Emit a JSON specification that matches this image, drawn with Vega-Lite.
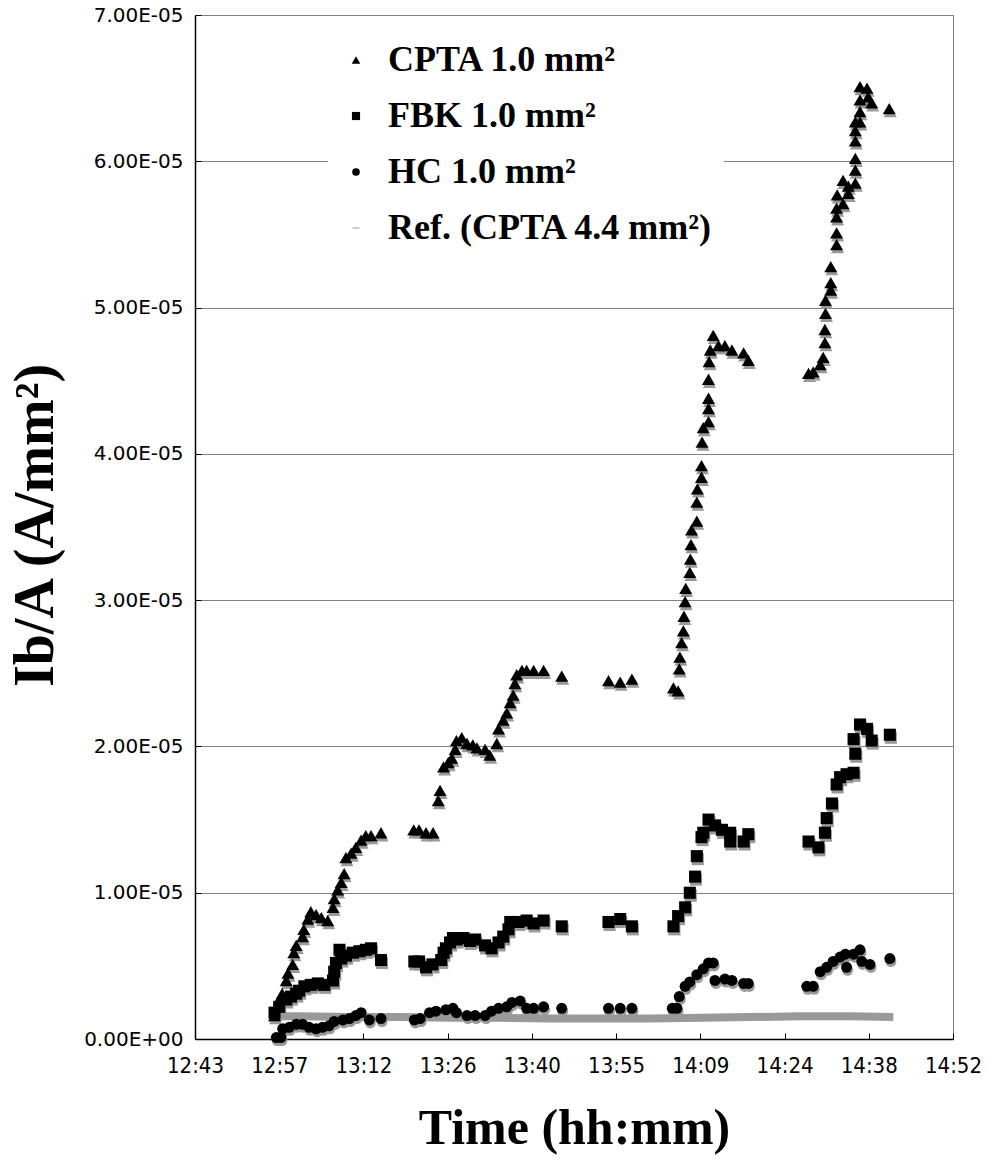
{
  "$schema": "https://vega.github.io/schema/vega-lite/v6.json",
  "width": 758,
  "height": 1024,
  "autosize": "none",
  "padding": {"left": 195, "top": 15, "right": 34, "bottom": 130},
  "background": "white",
  "config": {"view": {"stroke": "#808080", "strokeWidth": 1}},
  "data": {"values": [
    {"s":"CPTA 1.0 mm²","t":776.8,"v":0.16e-5},{"s":"CPTA 1.0 mm²","t":777.6,"v":0.27e-5},{"s":"CPTA 1.0 mm²","t":778.1,"v":0.31e-5},{"s":"CPTA 1.0 mm²","t":778.8,"v":0.40e-5},{"s":"CPTA 1.0 mm²","t":779.1,"v":0.45e-5},{"s":"CPTA 1.0 mm²","t":779.9,"v":0.51e-5},{"s":"CPTA 1.0 mm²","t":780.1,"v":0.59e-5},{"s":"CPTA 1.0 mm²","t":780.5,"v":0.64e-5},{"s":"CPTA 1.0 mm²","t":781.6,"v":0.70e-5},{"s":"CPTA 1.0 mm²","t":781.8,"v":0.75e-5},{"s":"CPTA 1.0 mm²","t":782.5,"v":0.82e-5},{"s":"CPTA 1.0 mm²","t":783.0,"v":0.87e-5},{"s":"CPTA 1.0 mm²","t":783.9,"v":0.85e-5},{"s":"CPTA 1.0 mm²","t":784.8,"v":0.83e-5},{"s":"CPTA 1.0 mm²","t":785.9,"v":0.81e-5},{"s":"CPTA 1.0 mm²","t":786.8,"v":0.90e-5},{"s":"CPTA 1.0 mm²","t":787.0,"v":0.96e-5},{"s":"CPTA 1.0 mm²","t":787.6,"v":1.02e-5},{"s":"CPTA 1.0 mm²","t":788.2,"v":1.07e-5},{"s":"CPTA 1.0 mm²","t":788.7,"v":1.13e-5},{"s":"CPTA 1.0 mm²","t":789.0,"v":1.24e-5},{"s":"CPTA 1.0 mm²","t":789.9,"v":1.27e-5},{"s":"CPTA 1.0 mm²","t":790.7,"v":1.31e-5},{"s":"CPTA 1.0 mm²","t":791.6,"v":1.36e-5},{"s":"CPTA 1.0 mm²","t":792.4,"v":1.39e-5},{"s":"CPTA 1.0 mm²","t":793.3,"v":1.39e-5},{"s":"CPTA 1.0 mm²","t":795.0,"v":1.41e-5},{"s":"CPTA 1.0 mm²","t":800.6,"v":1.43e-5},{"s":"CPTA 1.0 mm²","t":801.5,"v":1.43e-5},{"s":"CPTA 1.0 mm²","t":802.7,"v":1.41e-5},{"s":"CPTA 1.0 mm²","t":803.9,"v":1.41e-5},{"s":"CPTA 1.0 mm²","t":804.8,"v":1.63e-5},{"s":"CPTA 1.0 mm²","t":805.1,"v":1.70e-5},{"s":"CPTA 1.0 mm²","t":805.7,"v":1.86e-5},{"s":"CPTA 1.0 mm²","t":806.5,"v":1.89e-5},{"s":"CPTA 1.0 mm²","t":807.1,"v":1.92e-5},{"s":"CPTA 1.0 mm²","t":807.7,"v":1.98e-5},{"s":"CPTA 1.0 mm²","t":807.9,"v":2.04e-5},{"s":"CPTA 1.0 mm²","t":808.8,"v":2.06e-5},{"s":"CPTA 1.0 mm²","t":809.7,"v":2.02e-5},{"s":"CPTA 1.0 mm²","t":810.7,"v":2.01e-5},{"s":"CPTA 1.0 mm²","t":811.4,"v":1.99e-5},{"s":"CPTA 1.0 mm²","t":812.8,"v":1.98e-5},{"s":"CPTA 1.0 mm²","t":813.6,"v":1.94e-5},{"s":"CPTA 1.0 mm²","t":814.8,"v":2.02e-5},{"s":"CPTA 1.0 mm²","t":815.1,"v":2.12e-5},{"s":"CPTA 1.0 mm²","t":815.9,"v":2.18e-5},{"s":"CPTA 1.0 mm²","t":816.5,"v":2.23e-5},{"s":"CPTA 1.0 mm²","t":817.1,"v":2.30e-5},{"s":"CPTA 1.0 mm²","t":817.6,"v":2.35e-5},{"s":"CPTA 1.0 mm²","t":817.9,"v":2.43e-5},{"s":"CPTA 1.0 mm²","t":818.2,"v":2.49e-5},{"s":"CPTA 1.0 mm²","t":819.1,"v":2.52e-5},{"s":"CPTA 1.0 mm²","t":819.9,"v":2.52e-5},{"s":"CPTA 1.0 mm²","t":821.1,"v":2.52e-5},{"s":"CPTA 1.0 mm²","t":822.8,"v":2.52e-5},{"s":"CPTA 1.0 mm²","t":825.9,"v":2.48e-5},{"s":"CPTA 1.0 mm²","t":833.9,"v":2.45e-5},{"s":"CPTA 1.0 mm²","t":835.9,"v":2.44e-5},{"s":"CPTA 1.0 mm²","t":837.9,"v":2.46e-5},{"s":"CPTA 1.0 mm²","t":845.0,"v":2.40e-5},{"s":"CPTA 1.0 mm²","t":845.8,"v":2.38e-5},{"s":"CPTA 1.0 mm²","t":846.0,"v":2.53e-5},{"s":"CPTA 1.0 mm²","t":846.1,"v":2.61e-5},{"s":"CPTA 1.0 mm²","t":846.4,"v":2.71e-5},{"s":"CPTA 1.0 mm²","t":846.7,"v":2.79e-5},{"s":"CPTA 1.0 mm²","t":846.8,"v":2.89e-5},{"s":"CPTA 1.0 mm²","t":847.0,"v":2.99e-5},{"s":"CPTA 1.0 mm²","t":847.1,"v":3.08e-5},{"s":"CPTA 1.0 mm²","t":847.8,"v":3.19e-5},{"s":"CPTA 1.0 mm²","t":847.9,"v":3.28e-5},{"s":"CPTA 1.0 mm²","t":848.0,"v":3.38e-5},{"s":"CPTA 1.0 mm²","t":848.1,"v":3.48e-5},{"s":"CPTA 1.0 mm²","t":849.0,"v":3.54e-5},{"s":"CPTA 1.0 mm²","t":849.0,"v":3.67e-5},{"s":"CPTA 1.0 mm²","t":849.1,"v":3.76e-5},{"s":"CPTA 1.0 mm²","t":849.8,"v":3.84e-5},{"s":"CPTA 1.0 mm²","t":849.8,"v":3.92e-5},{"s":"CPTA 1.0 mm²","t":849.9,"v":4.08e-5},{"s":"CPTA 1.0 mm²","t":850.1,"v":4.18e-5},{"s":"CPTA 1.0 mm²","t":851.0,"v":4.22e-5},{"s":"CPTA 1.0 mm²","t":851.0,"v":4.31e-5},{"s":"CPTA 1.0 mm²","t":851.0,"v":4.38e-5},{"s":"CPTA 1.0 mm²","t":851.0,"v":4.51e-5},{"s":"CPTA 1.0 mm²","t":851.1,"v":4.63e-5},{"s":"CPTA 1.0 mm²","t":851.3,"v":4.71e-5},{"s":"CPTA 1.0 mm²","t":851.8,"v":4.81e-5},{"s":"CPTA 1.0 mm²","t":852.7,"v":4.74e-5},{"s":"CPTA 1.0 mm²","t":853.8,"v":4.74e-5},{"s":"CPTA 1.0 mm²","t":855.0,"v":4.71e-5},{"s":"CPTA 1.0 mm²","t":857.0,"v":4.69e-5},{"s":"CPTA 1.0 mm²","t":857.8,"v":4.64e-5},{"s":"CPTA 1.0 mm²","t":868.1,"v":4.55e-5},{"s":"CPTA 1.0 mm²","t":868.9,"v":4.56e-5},{"s":"CPTA 1.0 mm²","t":870.1,"v":4.61e-5},{"s":"CPTA 1.0 mm²","t":870.6,"v":4.66e-5},{"s":"CPTA 1.0 mm²","t":870.9,"v":4.76e-5},{"s":"CPTA 1.0 mm²","t":870.9,"v":4.85e-5},{"s":"CPTA 1.0 mm²","t":871.0,"v":4.96e-5},{"s":"CPTA 1.0 mm²","t":871.0,"v":5.05e-5},{"s":"CPTA 1.0 mm²","t":871.9,"v":5.12e-5},{"s":"CPTA 1.0 mm²","t":871.9,"v":5.17e-5},{"s":"CPTA 1.0 mm²","t":871.9,"v":5.28e-5},{"s":"CPTA 1.0 mm²","t":872.9,"v":5.43e-5},{"s":"CPTA 1.0 mm²","t":872.9,"v":5.51e-5},{"s":"CPTA 1.0 mm²","t":872.9,"v":5.62e-5},{"s":"CPTA 1.0 mm²","t":872.9,"v":5.68e-5},{"s":"CPTA 1.0 mm²","t":873.0,"v":5.77e-5},{"s":"CPTA 1.0 mm²","t":874.0,"v":5.71e-5},{"s":"CPTA 1.0 mm²","t":874.0,"v":5.87e-5},{"s":"CPTA 1.0 mm²","t":874.9,"v":5.83e-5},{"s":"CPTA 1.0 mm²","t":874.9,"v":5.78e-5},{"s":"CPTA 1.0 mm²","t":876.1,"v":5.85e-5},{"s":"CPTA 1.0 mm²","t":876.1,"v":5.94e-5},{"s":"CPTA 1.0 mm²","t":876.1,"v":6.02e-5},{"s":"CPTA 1.0 mm²","t":876.1,"v":6.14e-5},{"s":"CPTA 1.0 mm²","t":876.1,"v":6.21e-5},{"s":"CPTA 1.0 mm²","t":876.1,"v":6.27e-5},{"s":"CPTA 1.0 mm²","t":876.9,"v":6.27e-5},{"s":"CPTA 1.0 mm²","t":876.9,"v":6.34e-5},{"s":"CPTA 1.0 mm²","t":876.9,"v":6.42e-5},{"s":"CPTA 1.0 mm²","t":876.9,"v":6.51e-5},{"s":"CPTA 1.0 mm²","t":878.1,"v":6.50e-5},{"s":"CPTA 1.0 mm²","t":878.3,"v":6.44e-5},{"s":"CPTA 1.0 mm²","t":878.9,"v":6.40e-5},{"s":"CPTA 1.0 mm²","t":881.9,"v":6.36e-5},
    {"s":"FBK 1.0 mm²","t":776.8,"v":0.18e-5},{"s":"FBK 1.0 mm²","t":777.6,"v":0.22e-5},{"s":"FBK 1.0 mm²","t":778.8,"v":0.27e-5},{"s":"FBK 1.0 mm²","t":779.6,"v":0.29e-5},{"s":"FBK 1.0 mm²","t":780.5,"v":0.31e-5},{"s":"FBK 1.0 mm²","t":781.0,"v":0.33e-5},{"s":"FBK 1.0 mm²","t":781.9,"v":0.36e-5},{"s":"FBK 1.0 mm²","t":783.0,"v":0.37e-5},{"s":"FBK 1.0 mm²","t":784.2,"v":0.38e-5},{"s":"FBK 1.0 mm²","t":785.3,"v":0.37e-5},{"s":"FBK 1.0 mm²","t":786.8,"v":0.40e-5},{"s":"FBK 1.0 mm²","t":787.0,"v":0.46e-5},{"s":"FBK 1.0 mm²","t":787.3,"v":0.52e-5},{"s":"FBK 1.0 mm²","t":787.9,"v":0.61e-5},{"s":"FBK 1.0 mm²","t":788.2,"v":0.55e-5},{"s":"FBK 1.0 mm²","t":789.0,"v":0.57e-5},{"s":"FBK 1.0 mm²","t":790.2,"v":0.59e-5},{"s":"FBK 1.0 mm²","t":791.3,"v":0.60e-5},{"s":"FBK 1.0 mm²","t":792.4,"v":0.61e-5},{"s":"FBK 1.0 mm²","t":793.3,"v":0.62e-5},{"s":"FBK 1.0 mm²","t":795.0,"v":0.54e-5},{"s":"FBK 1.0 mm²","t":800.7,"v":0.53e-5},{"s":"FBK 1.0 mm²","t":801.5,"v":0.53e-5},{"s":"FBK 1.0 mm²","t":802.7,"v":0.49e-5},{"s":"FBK 1.0 mm²","t":803.8,"v":0.51e-5},{"s":"FBK 1.0 mm²","t":805.3,"v":0.54e-5},{"s":"FBK 1.0 mm²","t":805.7,"v":0.59e-5},{"s":"FBK 1.0 mm²","t":806.1,"v":0.62e-5},{"s":"FBK 1.0 mm²","t":806.8,"v":0.66e-5},{"s":"FBK 1.0 mm²","t":807.3,"v":0.69e-5},{"s":"FBK 1.0 mm²","t":807.9,"v":0.68e-5},{"s":"FBK 1.0 mm²","t":809.1,"v":0.69e-5},{"s":"FBK 1.0 mm²","t":810.2,"v":0.67e-5},{"s":"FBK 1.0 mm²","t":811.1,"v":0.68e-5},{"s":"FBK 1.0 mm²","t":812.8,"v":0.64e-5},{"s":"FBK 1.0 mm²","t":813.9,"v":0.62e-5},{"s":"FBK 1.0 mm²","t":815.1,"v":0.66e-5},{"s":"FBK 1.0 mm²","t":815.9,"v":0.70e-5},{"s":"FBK 1.0 mm²","t":816.8,"v":0.75e-5},{"s":"FBK 1.0 mm²","t":817.1,"v":0.80e-5},{"s":"FBK 1.0 mm²","t":818.5,"v":0.80e-5},{"s":"FBK 1.0 mm²","t":819.9,"v":0.81e-5},{"s":"FBK 1.0 mm²","t":821.1,"v":0.79e-5},{"s":"FBK 1.0 mm²","t":822.8,"v":0.81e-5},{"s":"FBK 1.0 mm²","t":825.9,"v":0.77e-5},{"s":"FBK 1.0 mm²","t":833.9,"v":0.80e-5},{"s":"FBK 1.0 mm²","t":835.9,"v":0.82e-5},{"s":"FBK 1.0 mm²","t":837.9,"v":0.77e-5},{"s":"FBK 1.0 mm²","t":845.0,"v":0.77e-5},{"s":"FBK 1.0 mm²","t":845.8,"v":0.84e-5},{"s":"FBK 1.0 mm²","t":847.0,"v":0.90e-5},{"s":"FBK 1.0 mm²","t":847.8,"v":1.00e-5},{"s":"FBK 1.0 mm²","t":848.7,"v":1.11e-5},{"s":"FBK 1.0 mm²","t":849.0,"v":1.25e-5},{"s":"FBK 1.0 mm²","t":849.8,"v":1.38e-5},{"s":"FBK 1.0 mm²","t":850.1,"v":1.41e-5},{"s":"FBK 1.0 mm²","t":851.0,"v":1.50e-5},{"s":"FBK 1.0 mm²","t":852.1,"v":1.46e-5},{"s":"FBK 1.0 mm²","t":853.3,"v":1.43e-5},{"s":"FBK 1.0 mm²","t":854.7,"v":1.41e-5},{"s":"FBK 1.0 mm²","t":854.7,"v":1.35e-5},{"s":"FBK 1.0 mm²","t":857.0,"v":1.35e-5},{"s":"FBK 1.0 mm²","t":857.8,"v":1.40e-5},{"s":"FBK 1.0 mm²","t":868.1,"v":1.35e-5},{"s":"FBK 1.0 mm²","t":869.8,"v":1.31e-5},{"s":"FBK 1.0 mm²","t":870.9,"v":1.41e-5},{"s":"FBK 1.0 mm²","t":871.2,"v":1.51e-5},{"s":"FBK 1.0 mm²","t":872.1,"v":1.61e-5},{"s":"FBK 1.0 mm²","t":872.9,"v":1.74e-5},{"s":"FBK 1.0 mm²","t":873.5,"v":1.79e-5},{"s":"FBK 1.0 mm²","t":874.6,"v":1.81e-5},{"s":"FBK 1.0 mm²","t":875.8,"v":1.82e-5},{"s":"FBK 1.0 mm²","t":876.1,"v":1.95e-5},{"s":"FBK 1.0 mm²","t":875.8,"v":2.05e-5},{"s":"FBK 1.0 mm²","t":876.9,"v":2.15e-5},{"s":"FBK 1.0 mm²","t":878.1,"v":2.12e-5},{"s":"FBK 1.0 mm²","t":878.9,"v":2.04e-5},{"s":"FBK 1.0 mm²","t":882.0,"v":2.08e-5},
    {"s":"HC 1.0 mm²","t":777.1,"v":0.01e-5},{"s":"HC 1.0 mm²","t":777.9,"v":0.01e-5},{"s":"HC 1.0 mm²","t":778.2,"v":0.07e-5},{"s":"HC 1.0 mm²","t":779.3,"v":0.08e-5},{"s":"HC 1.0 mm²","t":780.5,"v":0.10e-5},{"s":"HC 1.0 mm²","t":781.6,"v":0.10e-5},{"s":"HC 1.0 mm²","t":782.7,"v":0.08e-5},{"s":"HC 1.0 mm²","t":783.9,"v":0.07e-5},{"s":"HC 1.0 mm²","t":785.0,"v":0.08e-5},{"s":"HC 1.0 mm²","t":786.1,"v":0.09e-5},{"s":"HC 1.0 mm²","t":787.0,"v":0.12e-5},{"s":"HC 1.0 mm²","t":788.5,"v":0.13e-5},{"s":"HC 1.0 mm²","t":789.6,"v":0.14e-5},{"s":"HC 1.0 mm²","t":790.7,"v":0.16e-5},{"s":"HC 1.0 mm²","t":791.6,"v":0.18e-5},{"s":"HC 1.0 mm²","t":793.0,"v":0.13e-5},{"s":"HC 1.0 mm²","t":795.0,"v":0.14e-5},{"s":"HC 1.0 mm²","t":800.7,"v":0.13e-5},{"s":"HC 1.0 mm²","t":801.7,"v":0.14e-5},{"s":"HC 1.0 mm²","t":803.3,"v":0.18e-5},{"s":"HC 1.0 mm²","t":804.4,"v":0.19e-5},{"s":"HC 1.0 mm²","t":806.1,"v":0.20e-5},{"s":"HC 1.0 mm²","t":807.3,"v":0.21e-5},{"s":"HC 1.0 mm²","t":807.9,"v":0.18e-5},{"s":"HC 1.0 mm²","t":809.7,"v":0.16e-5},{"s":"HC 1.0 mm²","t":811.1,"v":0.16e-5},{"s":"HC 1.0 mm²","t":812.8,"v":0.16e-5},{"s":"HC 1.0 mm²","t":813.9,"v":0.19e-5},{"s":"HC 1.0 mm²","t":815.1,"v":0.21e-5},{"s":"HC 1.0 mm²","t":816.5,"v":0.22e-5},{"s":"HC 1.0 mm²","t":817.4,"v":0.25e-5},{"s":"HC 1.0 mm²","t":818.8,"v":0.26e-5},{"s":"HC 1.0 mm²","t":819.9,"v":0.21e-5},{"s":"HC 1.0 mm²","t":821.1,"v":0.21e-5},{"s":"HC 1.0 mm²","t":822.8,"v":0.22e-5},{"s":"HC 1.0 mm²","t":825.9,"v":0.21e-5},{"s":"HC 1.0 mm²","t":833.9,"v":0.21e-5},{"s":"HC 1.0 mm²","t":835.9,"v":0.21e-5},{"s":"HC 1.0 mm²","t":837.9,"v":0.21e-5},{"s":"HC 1.0 mm²","t":844.8,"v":0.21e-5},{"s":"HC 1.0 mm²","t":845.6,"v":0.21e-5},{"s":"HC 1.0 mm²","t":846.0,"v":0.29e-5},{"s":"HC 1.0 mm²","t":847.0,"v":0.36e-5},{"s":"HC 1.0 mm²","t":847.8,"v":0.39e-5},{"s":"HC 1.0 mm²","t":849.0,"v":0.44e-5},{"s":"HC 1.0 mm²","t":850.1,"v":0.48e-5},{"s":"HC 1.0 mm²","t":851.0,"v":0.52e-5},{"s":"HC 1.0 mm²","t":851.8,"v":0.52e-5},{"s":"HC 1.0 mm²","t":852.1,"v":0.40e-5},{"s":"HC 1.0 mm²","t":853.8,"v":0.41e-5},{"s":"HC 1.0 mm²","t":855.0,"v":0.40e-5},{"s":"HC 1.0 mm²","t":857.0,"v":0.38e-5},{"s":"HC 1.0 mm²","t":857.8,"v":0.38e-5},{"s":"HC 1.0 mm²","t":867.8,"v":0.36e-5},{"s":"HC 1.0 mm²","t":868.9,"v":0.36e-5},{"s":"HC 1.0 mm²","t":870.1,"v":0.46e-5},{"s":"HC 1.0 mm²","t":871.2,"v":0.49e-5},{"s":"HC 1.0 mm²","t":872.3,"v":0.53e-5},{"s":"HC 1.0 mm²","t":873.5,"v":0.56e-5},{"s":"HC 1.0 mm²","t":874.6,"v":0.49e-5},{"s":"HC 1.0 mm²","t":874.4,"v":0.58e-5},{"s":"HC 1.0 mm²","t":875.8,"v":0.58e-5},{"s":"HC 1.0 mm²","t":876.9,"v":0.61e-5},{"s":"HC 1.0 mm²","t":877.2,"v":0.53e-5},{"s":"HC 1.0 mm²","t":878.6,"v":0.51e-5},{"s":"HC 1.0 mm²","t":882.0,"v":0.55e-5},
    {"s":"Ref. (CPTA 4.4 mm²)","t":776.0,"v":0.155e-5},{"s":"Ref. (CPTA 4.4 mm²)","t":781.2,"v":0.155e-5},{"s":"Ref. (CPTA 4.4 mm²)","t":789.7,"v":0.15e-5},{"s":"Ref. (CPTA 4.4 mm²)","t":798.3,"v":0.15e-5},{"s":"Ref. (CPTA 4.4 mm²)","t":806.8,"v":0.145e-5},{"s":"Ref. (CPTA 4.4 mm²)","t":815.4,"v":0.145e-5},{"s":"Ref. (CPTA 4.4 mm²)","t":823.9,"v":0.14e-5},{"s":"Ref. (CPTA 4.4 mm²)","t":832.5,"v":0.14e-5},{"s":"Ref. (CPTA 4.4 mm²)","t":841.0,"v":0.14e-5},{"s":"Ref. (CPTA 4.4 mm²)","t":849.6,"v":0.145e-5},{"s":"Ref. (CPTA 4.4 mm²)","t":858.1,"v":0.15e-5},{"s":"Ref. (CPTA 4.4 mm²)","t":866.7,"v":0.155e-5},{"s":"Ref. (CPTA 4.4 mm²)","t":875.2,"v":0.155e-5},{"s":"Ref. (CPTA 4.4 mm²)","t":882.6,"v":0.15e-5}
  ]},
  "encoding": {
    "x": {
      "field": "t", "type": "quantitative",
      "scale": {"domain": [763.2, 892.8], "nice": false, "zero": false},
      "axis": {
        "title": "Time (hh:mm)",
        "values": [763.2, 777.6, 792, 806.4, 820.8, 835.2, 849.6, 864, 878.4, 892.8],
        "labelExpr": "floor(datum.value/60) + ':' + pad(floor(datum.value % 60) + '', 2, '0', 'left')",
        "grid": false, "domainColor": "black", "domainWidth": 1.5,
        "tickColor": "black", "tickSize": -6,
        "labelFont": "Liberation Sans Narrow, DejaVu Sans Condensed", "labelFontSize": 22, "labelColor": "black",
        "labelPadding": 22, "labelFlush": false, "labelOverlap": false,
        "titleFont": "Liberation Serif", "titleFontSize": 50, "titleFontWeight": "bold", "titleColor": "black",
        "titleY": 104, "titleBaseline": "alphabetic"
      }
    },
    "y": {
      "field": "v", "type": "quantitative",
      "scale": {"domain": [0, 0.00007], "nice": false},
      "axis": {
        "title": "Ib/A (A/mm²)",
        "values": [0, 0.00001, 0.00002, 0.00003, 0.00004, 0.00005, 0.00006, 0.00007],
        "labelExpr": "datum.value === 0 ? '0.00E+00' : format(datum.value * 100000, '.2f') + 'E-05'",
        "grid": true, "gridColor": "#808080", "gridOpacity": 1, "gridWidth": 1,
        "domainColor": "black", "domainWidth": 1.5,
        "tickColor": "black", "tickSize": -6,
        "labelFont": "DejaVu Sans", "labelFontSize": 20, "labelColor": "black", "labelPadding": 18,
        "labelFlush": false, "labelOverlap": false,
        "titleFont": "Liberation Serif", "titleFontSize": 56, "titleFontWeight": "bold", "titleColor": "black",
        "titleX": -143, "titleY": 510, "titleAngle": -90, "titleAlign": "center", "titleBaseline": "alphabetic"
      }
    }
  },
  "resolve": {
    "scale": {"size": "independent"},
    "legend": {"shape": "independent", "size": "independent", "color": "independent"}
  },
  "layer": [
    {
      "transform": [{"filter": "datum.s === 'Ref. (CPTA 4.4 mm²)'"}],
      "mark": {"type": "line", "strokeWidth": 8, "strokeCap": "butt", "color": "#999999"},
      "encoding": {
        "detail": {"field": "s", "type": "nominal"}
      }
    },
    {
      "transform": [{"filter": "datum.s !== 'Ref. (CPTA 4.4 mm²)'"}],
      "mark": {"type": "point", "filled": true, "opacity": 1, "color": "#999999", "yOffset": 3, "xOffset": 1},
      "encoding": {
        "shape": {"field": "s", "type": "nominal", "legend": null},
        "size": {"field": "s", "type": "nominal",
          "scale": {"domain": ["CPTA 1.0 mm²", "FBK 1.0 mm²", "HC 1.0 mm²"], "range": [170, 121, 81]},
          "legend": null}
      }
    },
    {
      "transform": [{"filter": "datum.s !== 'Ref. (CPTA 4.4 mm²)'"}],
      "mark": {"type": "point", "filled": true, "opacity": 1, "color": "#000000"},
      "encoding": {
        "shape": {"field": "s", "type": "nominal",
          "scale": {"domain": ["CPTA 1.0 mm²", "FBK 1.0 mm²", "HC 1.0 mm²", "Ref. (CPTA 4.4 mm²)"], "range": ["triangle-up", "square", "circle", "M-1,-0.14H1V0.14H-1Z"]},
          "legend": null},
        "size": {"field": "s", "type": "nominal",
          "scale": {"domain": ["CPTA 1.0 mm²", "FBK 1.0 mm²", "HC 1.0 mm²"], "range": [170, 121, 81]},
          "legend": null}
      }
    },
    {
      "transform": [{"filter": "false"}],
      "mark": {"type": "point", "filled": true, "opacity": 1},
      "encoding": {
        "shape": {"field": "s", "type": "nominal",
          "legend": {
            "title": null, "orient": "none", "legendX": 133, "legendY": 17,
            "symbolStrokeWidth": 0, "symbolOpacity": 1,
            "labelFont": "Liberation Serif", "labelFontSize": 36, "labelFontWeight": "bold", "labelColor": "black",
            "labelLimit": 700, "labelOffset": 14, "rowPadding": 20, "padding": 10, "fillColor": "white"
          }},
        "color": {"field": "s", "type": "nominal",
          "scale": {"domain": ["CPTA 1.0 mm²", "FBK 1.0 mm²", "HC 1.0 mm²", "Ref. (CPTA 4.4 mm²)"], "range": ["#000000", "#000000", "#000000", "#999999"]}},
        "size": {"field": "s", "type": "nominal",
          "scale": {"domain": ["CPTA 1.0 mm²", "FBK 1.0 mm²", "HC 1.0 mm²", "Ref. (CPTA 4.4 mm²)"], "range": [75, 50, 30, 2025]}}
      }
    }
  ]
}
